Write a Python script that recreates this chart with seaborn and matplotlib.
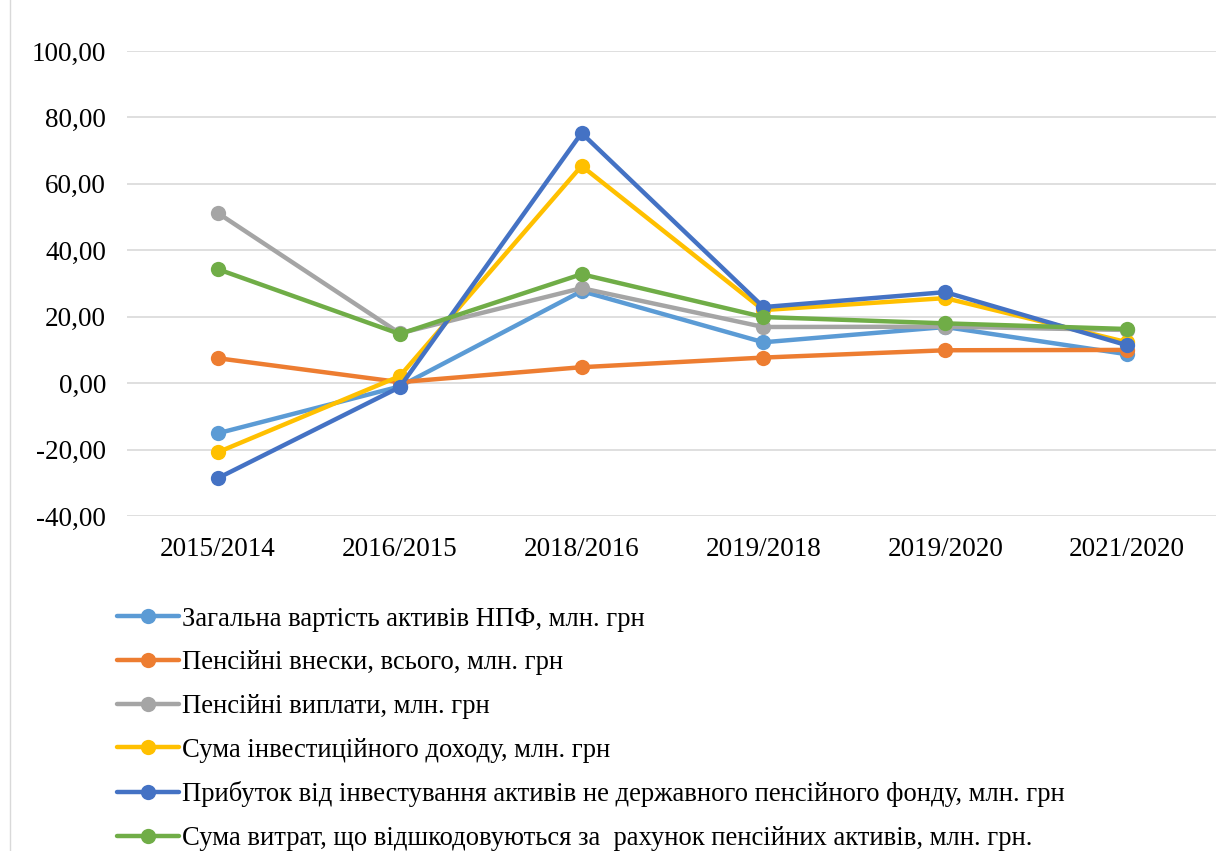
import matplotlib
matplotlib.use('Agg')
import matplotlib.pyplot as plt
from matplotlib.ticker import FuncFormatter, MultipleLocator
from matplotlib.patches import Rectangle
import seaborn as sns
import pandas as pd

# periods on the x axis
periods = ['2015/2014', '2016/2015', '2018/2016', '2019/2018', '2019/2020', '2021/2020']

series_names = [
    'Загальна вартість активів НПФ, млн. грн',
    'Пенсійні внески, всього, млн. грн',
    'Пенсійні виплати, млн. грн',
    'Сума інвестиційного доходу, млн. грн',
    'Прибуток від інвестування активів не державного пенсійного фонду, млн. грн',
    'Сума витрат, що відшкодовуються за  рахунок пенсійних активів, млн. грн.',
]

total_assets = [-15.1, -1.0, 27.7, 12.3, 16.9, 8.7]
contributions = [7.5, 0.3, 4.8, 7.7, 9.9, 10.0]
payments = [51.2, 15.0, 28.6, 16.9, 17.0, 16.0]
invest_income = [-20.8, 2.1, 65.4, 22.0, 25.6, 12.3]
invest_profit = [-28.6, -1.2, 75.3, 22.9, 27.4, 11.4]
expenses = [34.3, 14.8, 32.8, 19.9, 18.0, 16.3]

colors = ['#5B9BD5', '#ED7D31', '#A5A5A5', '#FFC000', '#4472C4', '#70AD47']

values = [total_assets, contributions, payments, invest_income, invest_profit, expenses]
rows = []
for name, vals in zip(series_names, values):
    for p, v in zip(periods, vals):
        rows.append({'period': p, 'value': v, 'series': name})
df = pd.DataFrame(rows)

sns.set_theme(style='white')
plt.rcParams['font.family'] = ['Liberation Serif', 'DejaVu Serif']

fig = plt.figure(figsize=(12.16, 8.51), dpi=100)
ax = fig.add_axes([127 / 1216, 1 - 516 / 851, (1218 - 127) / 1216, (516 - 51) / 851])

sns.lineplot(data=df, x='period', y='value', hue='series', palette=colors,
             marker='o', markersize=11, markeredgewidth=0, linewidth=3.2,
             sort=False, ax=ax, legend=True)

ax.set_ylim(-40, 100)
ax.set_xlim(-0.5, len(periods) - 0.5)
ax.yaxis.set_major_locator(MultipleLocator(20))
ax.yaxis.set_major_formatter(FuncFormatter(lambda v, _: f'{v:.2f}'.replace('.', ',')))
ax.grid(axis='y', color='#d9d9d9', linewidth=1.2)
ax.set_axisbelow(True)
for s in ax.spines.values():
    s.set_visible(False)
ax.set_xlabel('')
ax.set_ylabel('')
ax.tick_params(axis='both', labelsize=19.5, colors='#000000', length=0)
ax.tick_params(axis='x', pad=15)
ax.tick_params(axis='y', pad=15)

handles, labels = ax.get_legend_handles_labels()
ax.get_legend().remove()
fig.legend(handles, labels, loc='upper left', bbox_to_anchor=(106 / 1216, 1 - 596 / 851),
           frameon=False, fontsize=19.2, handlelength=2.35, handletextpad=0.1,
           labelspacing=0.7, borderaxespad=0, labelcolor='#000000')

# chart border, as in the source
fig.patches.append(Rectangle((10 / 1216, -0.01), 1.0, 1.02, transform=fig.transFigure,
                             fill=False, edgecolor='#d9d9d9', linewidth=1))

fig.savefig('out.png', dpi=100)
